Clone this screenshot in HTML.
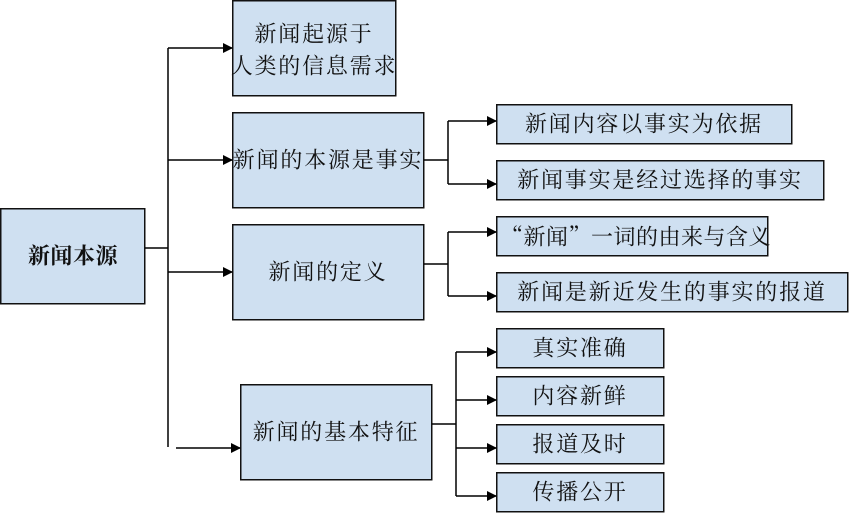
<!DOCTYPE html>
<html><head><meta charset="utf-8"><style>
html,body{margin:0;padding:0;background:#fff;}
svg{display:block;}
text{font-family:"Liberation Serif","Noto Serif CJK SC",serif;font-size:22px;letter-spacing:1.8px;fill:#111;}
</style></head><body>
<svg width="849" height="513" viewBox="0 0 849 513" xmlns="http://www.w3.org/2000/svg">
<defs><marker id="a" markerWidth="10" markerHeight="10" refX="9" refY="5" orient="auto" markerUnits="userSpaceOnUse"><path d="M0,0 L10,5 L0,10 z" fill="#000"/></marker></defs>
<g fill="#cfe0f1" stroke="#111" stroke-width="1.5">
<rect x="0.75" y="208.75" width="144" height="95"/>
<rect x="232.75" y="0.75" width="163" height="95"/>
<rect x="232.75" y="112.75" width="191" height="95"/>
<rect x="232.75" y="224.75" width="191" height="95"/>
<rect x="240.75" y="384.75" width="191" height="95"/>
<rect x="496.75" y="104.75" width="295" height="39"/>
<rect x="496.75" y="160.75" width="327" height="39"/>
<rect x="496.75" y="216.75" width="271" height="39"/>
<rect x="496.75" y="272.75" width="351" height="39"/>
<rect x="496.75" y="328.75" width="167" height="39"/>
<rect x="496.75" y="376.75" width="167" height="39"/>
<rect x="496.75" y="424.75" width="167" height="39"/>
<rect x="496.75" y="472.75" width="167" height="39"/>
</g>
<g stroke="#000" stroke-width="1.5" fill="none">
<path d="M145,248 H168 M168,48 V447"/>
<path d="M168,48 H232" marker-end="url(#a)"/>
<path d="M168,160 H232" marker-end="url(#a)"/>
<path d="M168,272 H232" marker-end="url(#a)"/>
<path d="M176,448 H240" marker-end="url(#a)"/>
<path d="M424,160 H448 M448,121 V184"/>
<path d="M448,121 H496" marker-end="url(#a)"/>
<path d="M448,184 H496" marker-end="url(#a)"/>
<path d="M424,264 H448 M448,232 V296"/>
<path d="M448,232 H496" marker-end="url(#a)"/>
<path d="M448,296 H496" marker-end="url(#a)"/>
<path d="M432,424 H456 M456,352 V496"/>
<path d="M456,352 H496" marker-end="url(#a)"/>
<path d="M456,400 H496" marker-end="url(#a)"/>
<path d="M456,448 H496" marker-end="url(#a)"/>
<path d="M456,496 H496" marker-end="url(#a)"/>
</g>
<g text-anchor="middle" dominant-baseline="central">
<text x="73" y="256" style="font-weight:bold;letter-spacing:0.5px">新闻本源</text>
<text x="314" y="34">新闻起源于</text>
<text x="314" y="66">人类的信息需求</text>
<text x="328" y="160">新闻的本源是事实</text>
<text x="328" y="272">新闻的定义</text>
<text x="336" y="432">新闻的基本特征</text>
<text x="644" y="124">新闻内容以事实为依据</text>
<text x="660" y="180">新闻事实是经过选择的事实</text>
<text x="636" y="236" style="font-family:'Noto Serif CJK SC',serif;letter-spacing:0.5px">“新闻”一词的由来与含义</text>
<text x="672" y="292">新闻是新近发生的事实的报道</text>
<text x="580" y="348">真实准确</text>
<text x="580" y="396">内容新鲜</text>
<text x="580" y="444">报道及时</text>
<text x="580" y="492">传播公开</text>
</g>
</svg>
</body></html>
